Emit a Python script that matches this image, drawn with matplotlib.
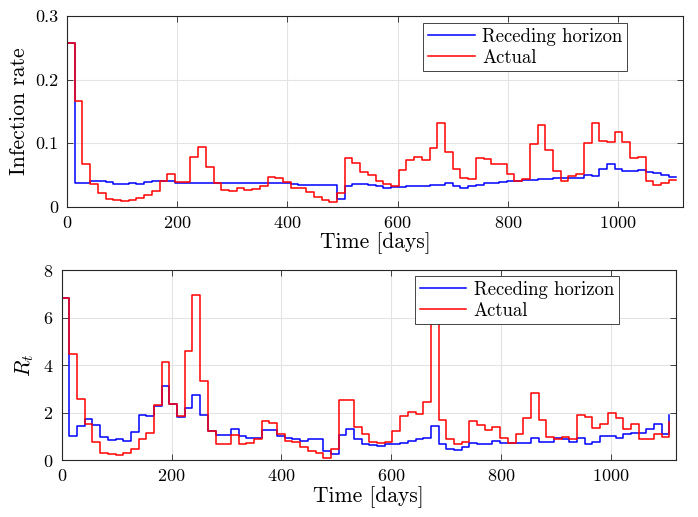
import numpy as np
import matplotlib
matplotlib.use("Agg")
import matplotlib.pyplot as plt

plt.rcParams['font.family'] = 'serif'
plt.rcParams['font.serif'] = ['cmr10']
plt.rcParams['mathtext.fontset'] = 'cm'
plt.rcParams['axes.formatter.use_mathtext'] = True

# 14-day decision intervals
days = np.arange(80) * 14

ir_rh = [0.258, 0.038, 0.038, 0.040, 0.040, 0.039, 0.036, 0.036, 0.037, 0.036,
         0.039, 0.040, 0.041, 0.040, 0.038, 0.038, 0.038, 0.038, 0.037, 0.038,
         0.038, 0.038, 0.038, 0.038, 0.038, 0.037, 0.037, 0.037, 0.037, 0.036,
         0.035, 0.035, 0.034, 0.034, 0.034, 0.012, 0.033, 0.036, 0.036, 0.034,
         0.032, 0.029, 0.031, 0.031, 0.032, 0.033, 0.033, 0.034, 0.035, 0.037,
         0.032, 0.029, 0.033, 0.035, 0.037, 0.038, 0.039, 0.040, 0.041, 0.042,
         0.042, 0.043, 0.043, 0.045, 0.046, 0.046, 0.046, 0.050, 0.048, 0.059,
         0.067, 0.060, 0.057, 0.057, 0.058, 0.054, 0.053, 0.050, 0.047, 0.047]
ir_actual = [0.258, 0.166, 0.068, 0.036, 0.022, 0.012, 0.0105, 0.009, 0.0105, 0.014,
             0.018, 0.025, 0.041, 0.052, 0.039, 0.039, 0.079, 0.094, 0.063, 0.038,
             0.026, 0.025, 0.030, 0.027, 0.028, 0.033, 0.047, 0.045, 0.039, 0.030,
             0.029, 0.023, 0.016, 0.011, 0.008, 0.022, 0.077, 0.069, 0.055, 0.050,
             0.041, 0.036, 0.033, 0.058, 0.074, 0.079, 0.074, 0.092, 0.132, 0.086,
             0.060, 0.046, 0.044, 0.076, 0.075, 0.068, 0.067, 0.051, 0.041, 0.043,
             0.099, 0.129, 0.090, 0.057, 0.041, 0.048, 0.052, 0.101, 0.131, 0.104,
             0.102, 0.118, 0.102, 0.077, 0.078, 0.041, 0.035, 0.038, 0.042, 0.042]

rt_rh = [6.82, 1.01, 1.43, 1.72, 1.47, 0.98, 0.84, 0.87, 0.81, 1.19,
         1.88, 1.85, 2.30, 3.14, 2.35, 1.82, 2.21, 2.75, 1.92, 1.23,
         1.05, 1.05, 1.29, 1.02, 0.95, 0.95, 1.26, 1.26, 1.02, 0.95,
         0.91, 0.80, 0.87, 0.87, 0.39, 0.25, 1.04, 1.29, 0.90, 0.70,
         0.62, 0.60, 0.69, 0.69, 0.74, 0.81, 0.88, 0.94, 1.43, 0.70,
         0.48, 0.42, 0.56, 0.73, 0.67, 0.67, 0.80, 0.74, 0.74, 0.73,
         0.73, 0.95, 0.77, 0.77, 0.95, 0.91, 0.77, 0.95, 0.67, 0.77,
         1.01, 1.01, 0.95, 1.09, 1.15, 1.15, 1.29, 1.51, 1.08, 1.88]
rt_actual = [6.82, 4.45, 2.58, 1.51, 0.77, 0.31, 0.25, 0.22, 0.28, 0.48,
             0.87, 1.15, 2.31, 4.13, 2.35, 1.85, 4.59, 6.97, 3.33, 1.23,
             0.70, 0.67, 1.05, 0.70, 0.73, 0.87, 1.65, 1.57, 1.08, 0.81,
             0.77, 0.56, 0.39, 0.28, 0.10, 0.48, 2.52, 2.52, 1.40, 1.09,
             0.77, 0.73, 0.76, 1.23, 1.85, 2.02, 1.96, 2.46, 7.5, 1.68,
             0.88, 0.67, 0.77, 1.65, 1.46, 1.26, 1.40, 0.95, 0.74, 1.09,
             1.79, 2.83, 1.68, 0.98, 0.88, 0.98, 0.88, 1.89, 1.82, 1.36,
             1.54, 2.00, 1.76, 1.32, 1.51, 0.91, 0.87, 1.12, 0.98, 1.61]

fig = plt.figure(figsize=(6.98, 5.17), dpi=100)
ax1 = fig.add_axes([0.096, 0.600, 0.8825, 0.369])
ax2 = fig.add_axes([0.0884, 0.110, 0.880, 0.3675])


def style(ax):
    ax.grid(True, color='#e3e3e3', linewidth=0.8)
    ax.set_axisbelow(True)
    ax.tick_params(direction='in', top=True, right=True, labelsize=13,
                   length=4, width=0.6, colors='#262626', labelcolor='black', pad=6)
    for s in ax.spines.values():
        s.set_color('#262626')
        s.set_linewidth(0.8)
    ax.set_xlim(0, 1118)
    ax.set_xticks([0, 200, 400, 600, 800, 1000])
    ax.set_xlabel('Time [days]', fontsize=15.5, labelpad=1)


ax1.step(days, ir_rh, where='post', color='#0000ff', lw=1.1, label='Receding horizon')
ax1.step(days, ir_actual, where='post', color='#ff0000', lw=1.1, label='Actual')
style(ax1)
ax1.set_ylim(0, 0.3)
ax1.set_yticks([0, 0.1, 0.2, 0.3])
ax1.set_yticklabels(['0', '0.1', '0.2', '0.3'])
ax1.set_ylabel('Infection rate', fontsize=15.5, labelpad=5)
leg = ax1.legend(loc='upper right', bbox_to_anchor=(0.909, 0.963), fontsize=13.5,
                 fancybox=False, framealpha=1, edgecolor='#262626',
                 handlelength=2.5, borderaxespad=0, borderpad=0.25,
                 labelspacing=0.15, handletextpad=0.4)
leg.get_frame().set_linewidth(0.6)

ax2.step(days, rt_rh, where='post', color='#0000ff', lw=1.1, label='Receding horizon')
ax2.step(days, rt_actual, where='post', color='#ff0000', lw=1.1, label='Actual')
style(ax2)
ax2.set_ylim(0, 8)
ax2.set_yticks([0, 2, 4, 6, 8])
ax2.set_ylabel('$R_t$', fontsize=15.5, labelpad=5)
leg = ax2.legend(loc='upper right', bbox_to_anchor=(0.907, 0.968), fontsize=13.5,
                 fancybox=False, framealpha=1, edgecolor='#262626',
                 handlelength=2.5, borderaxespad=0, borderpad=0.25,
                 labelspacing=0.15, handletextpad=0.4)
leg.get_frame().set_linewidth(0.6)

fig.savefig('out.png', dpi=100)
